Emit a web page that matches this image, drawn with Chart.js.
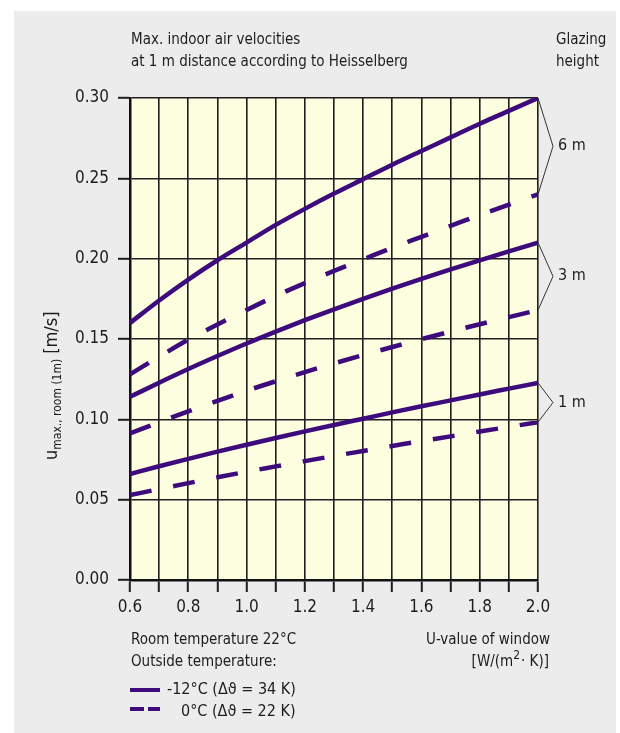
<!DOCTYPE html>
<html>
<head>
<meta charset="utf-8">
<script src="https://cdn.jsdelivr.net/npm/chart.js@4/dist/chart.umd.min.js"></script>
<style>
  html, body { margin: 0; padding: 0; background: #ffffff; }
  #wrap { width: 620px; height: 733px; position: relative; }
</style>
</head>
<body>
<div id="wrap"><canvas id="c" width="620" height="733"></canvas></div>
<script>
// U-value of window [W/(m²·K)]
const uValues = [0.6, 0.7, 0.8, 0.9, 1.0, 1.1, 1.2, 1.3, 1.4, 1.5, 1.6, 1.7, 1.8, 1.9, 2.0];

// Max. air velocity at 1 m distance [m/s], outside -12 °C (solid)
const solid6m = [0.160, 0.174, 0.187, 0.199, 0.210, 0.221, 0.231, 0.2405, 0.2495, 0.2585, 0.267, 0.2755, 0.284, 0.292, 0.300];
const solid3m = [0.114, 0.1228, 0.1313, 0.1394, 0.1472, 0.1546, 0.1617, 0.1685, 0.1750, 0.1813, 0.1874, 0.1933, 0.1990, 0.2045, 0.2100];
const solid1m = [0.066, 0.0708, 0.0754, 0.0799, 0.0842, 0.0884, 0.0925, 0.0965, 0.1004, 0.1043, 0.1081, 0.1118, 0.1155, 0.1191, 0.1227];

// Outside 0 °C (dashed)
const dashed6m = [0.128, 0.139, 0.1496, 0.159, 0.168, 0.1768, 0.1848, 0.1924, 0.1996, 0.2068, 0.2136, 0.2204, 0.2272, 0.2336, 0.240];
const dashed3m = [0.0912, 0.0982, 0.1050, 0.1115, 0.1178, 0.1237, 0.1294, 0.1348, 0.1400, 0.1450, 0.1499, 0.1546, 0.1592, 0.1636, 0.1680];
const dashed1m = [0.0528, 0.0566, 0.0603, 0.0639, 0.0674, 0.0707, 0.0740, 0.0772, 0.0803, 0.0834, 0.0865, 0.0894, 0.0924, 0.0953, 0.0982];

// Glazing heights bracketing each pair of curves
const glazingLabels = ['6 m', '3 m', '1 m'];

const FONT = '"Liberation Sans Narrow", "DejaVu Sans Condensed", "Roboto Condensed", sans-serif';
const INK = '#1c1c1c';
const LINE = '#3d0b7b';

function pts(ys) { return uValues.map((u, i) => ({ x: u, y: ys[i] })); }
function curve(label, ys, dashed) {
  return {
    label, data: pts(ys),
    borderColor: LINE, backgroundColor: LINE,
    borderWidth: 4.5, pointRadius: 0,
    cubicInterpolationMode: 'monotone',
    borderDash: dashed ? [22, 22] : [],
    borderCapStyle: 'butt',
    fill: false
  };
}

const pairs = [
  [solid6m, dashed6m],
  [solid3m, dashed3m],
  [solid1m, dashed1m]
];

const decor = {
  id: 'decor',
  beforeDraw(chart) {
    const { ctx, chartArea: a } = chart;
    ctx.save();
    ctx.fillStyle = '#ffffff';
    ctx.fillRect(0, 0, chart.width, chart.height);
    ctx.fillStyle = '#ececec';
    ctx.fillRect(14, 11, 602, 722);
    ctx.fillStyle = '#fdfde0';
    ctx.fillRect(a.left, a.top, a.right - a.left, a.bottom - a.top);
    ctx.restore();
  },
  afterDraw(chart) {
    const { ctx, chartArea: a, scales } = chart;
    const y = scales.y;
    ctx.save();
    ctx.fillStyle = INK;
    ctx.textBaseline = 'middle';
    ctx.font = '15px ' + FONT;

    // header
    ctx.textAlign = 'left';
    ctx.fillText('Max. indoor air velocities', 131, 40);
    ctx.fillText('at 1 m distance according to Heisselberg', 131, 62);
    ctx.fillText('Glazing', 556, 40);
    ctx.fillText('height', 556, 62);

    // glazing-height brackets
    ctx.strokeStyle = '#333';
    ctx.lineWidth = 1;
    ctx.font = '16px ' + FONT;
    pairs.forEach((p, i) => {
      const yTop = y.getPixelForValue(p[0][p[0].length - 1]);
      const yBot = y.getPixelForValue(p[1][p[1].length - 1]);
      const tipX = a.right + 15;
      const tipY = (yTop + yBot) / 2;
      ctx.beginPath();
      ctx.moveTo(a.right, yTop);
      ctx.lineTo(tipX, tipY);
      ctx.lineTo(a.right, yBot);
      ctx.stroke();
      ctx.textAlign = 'left';
      ctx.fillText(glazingLabels[i], tipX + 5, tipY);
    });

    // footer notes
    ctx.font = '15px ' + FONT;
    ctx.textAlign = 'left';
    ctx.fillText('Room temperature 22°C', 131, 640);
    ctx.fillText('Outside temperature:', 131, 662);
    ctx.textAlign = 'right';
    ctx.fillText('U-value of window', 550, 640);
    // [W/(m²· K)] with raised exponent
    const partA = '[W/(m', partB = '2', partC = '· K)]';
    const fBig = '15px ' + FONT, fSmall = '12px ' + FONT;
    ctx.font = fBig;
    const wA = ctx.measureText(partA).width;
    const wC = ctx.measureText(partC).width;
    ctx.font = fSmall;
    const wB = ctx.measureText(partB).width;
    const endX = 549;
    const startX = endX - wA - wB - wC - 1;
    ctx.textAlign = 'left';
    ctx.font = fBig;
    ctx.fillText(partA, startX, 662);
    ctx.font = fSmall;
    ctx.fillText(partB, startX + wA, 656);
    ctx.font = fBig;
    ctx.fillText(partC, startX + wA + wB + 1, 662);

    // legend
    ctx.strokeStyle = LINE;
    ctx.lineWidth = 4;
    ctx.lineCap = 'butt';
    ctx.beginPath();
    ctx.moveTo(130, 690); ctx.lineTo(160, 690);
    ctx.moveTo(130, 709); ctx.lineTo(144, 709);
    ctx.moveTo(148, 709); ctx.lineTo(160, 709);
    ctx.stroke();
    ctx.fillStyle = INK;
    ctx.font = '16px ' + FONT;
    ctx.fillText('-12°C (Δϑ = 34 K)', 167, 690);
    ctx.fillText('0°C (Δϑ = 22 K)', 181, 712);

    // rotated y-axis title with subscript
    ctx.translate(57, 460);
    ctx.rotate(-Math.PI / 2);
    ctx.textAlign = 'left';
    ctx.textBaseline = 'alphabetic';
    let x = 0;
    ctx.font = '18px ' + FONT;
    ctx.fillText('u', x, 0);
    x += ctx.measureText('u').width;
    ctx.font = '12px ' + FONT;
    ctx.fillText('max., room (1m)', x, 4);
    x += ctx.measureText('max., room (1m)').width + 5;
    ctx.font = '18px ' + FONT;
    ctx.fillText('[m/s]', x, 0);
    ctx.restore();
  }
};

new Chart(document.getElementById('c'), {
  type: 'line',
  data: {
    datasets: [
      curve('6 m, -12°C', solid6m, false),
      curve('6 m, 0°C', dashed6m, true),
      curve('3 m, -12°C', solid3m, false),
      curve('3 m, 0°C', dashed3m, true),
      curve('1 m, -12°C', solid1m, false),
      curve('1 m, 0°C', dashed1m, true)
    ]
  },
  options: {
    responsive: false,
    animation: false,
    devicePixelRatio: 1,
    layout: { padding: { left: 0, top: 98, right: 82, bottom: 113 } },
    plugins: { legend: { display: false }, tooltip: { enabled: false } },
    scales: {
      x: {
        type: 'linear', min: 0.6, max: 2.0,
        afterFit(s) { s.height = 40; },
        ticks: {
          stepSize: 0.1, autoSkip: false, maxRotation: 0,
          color: INK, padding: 5,
          font: { family: FONT, size: 17 },
          callback: v => (Math.round(v * 10) % 2 === 0 ? v.toFixed(1) : '')
        },
        grid: { color: '#1e1e1e', lineWidth: 1.6, tickLength: 12, tickWidth: 2 },
        border: { color: '#111', width: 2.5 }
      },
      y: {
        min: 0, max: 0.3,
        afterFit(s) { s.width = 130; },
        ticks: {
          stepSize: 0.05, color: INK, padding: 9,
          font: { family: FONT, size: 17 },
          callback: v => v.toFixed(2)
        },
        grid: { color: '#1e1e1e', lineWidth: 1.6, tickLength: 12, tickWidth: 2 },
        border: { color: '#111', width: 2.5 }
      }
    }
  },
  plugins: [decor]
});
</script>
</body>
</html>
